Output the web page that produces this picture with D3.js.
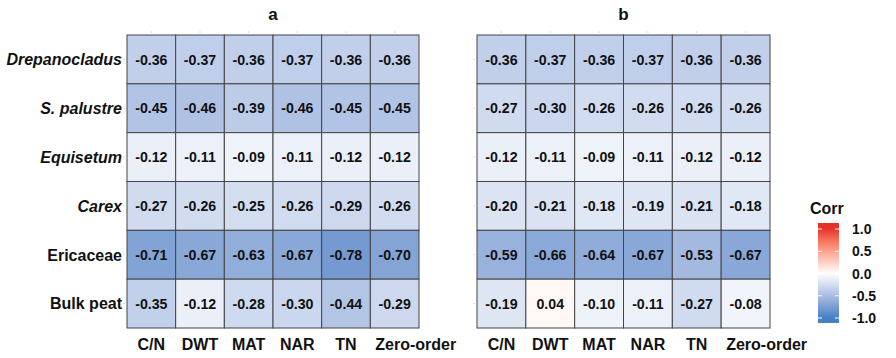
<!DOCTYPE html>
<html><head><meta charset="utf-8">
<script src="https://cdn.jsdelivr.net/npm/d3@7"></script>
<style>body{margin:0;background:#fff;} svg{display:block;font-family:Arial,"Liberation Sans",sans-serif;}</style>
</head><body><svg id="c" width="896" height="358"></svg>
<script>
const columns = ["C/N","DWT","MAT","NAR","TN","Zero-order"];
const rows = ["Drepanocladus","S. palustre","Equisetum","Carex","Ericaceae","Bulk peat"];
const italicRows = ["Drepanocladus","S. palustre","Equisetum","Carex"];
const panelTitles = ["a","b"];
const valuesA = [
  [-0.36,-0.37,-0.36,-0.37,-0.36,-0.36],
  [-0.45,-0.46,-0.39,-0.46,-0.45,-0.45],
  [-0.12,-0.11,-0.09,-0.11,-0.12,-0.12],
  [-0.27,-0.26,-0.25,-0.26,-0.29,-0.26],
  [-0.71,-0.67,-0.63,-0.67,-0.78,-0.70],
  [-0.35,-0.12,-0.28,-0.30,-0.44,-0.29]
];
const valuesB = [
  [-0.36,-0.37,-0.36,-0.37,-0.36,-0.36],
  [-0.27,-0.30,-0.26,-0.26,-0.26,-0.26],
  [-0.12,-0.11,-0.09,-0.11,-0.12,-0.12],
  [-0.20,-0.21,-0.18,-0.19,-0.21,-0.18],
  [-0.59,-0.66,-0.64,-0.67,-0.53,-0.67],
  [-0.19,0.04,-0.10,-0.11,-0.27,-0.08]
];
const legendTicks = [1.0,0.5,0.0,-0.5,-1.0];

const loc = d3.formatLocale({decimal:".",thousands:",",grouping:[3],currency:["",""],minus:"-"});
const f2 = loc.format(".2f"), f1 = loc.format(".1f");

const svg = d3.select("#c");
const color = d3.scaleLinear().domain([-1,0,1]).range(["#4680c4","#ffffff","#e6302a"]).interpolate(d3.interpolateLab);

const panels = [
  {x0:127, x1:419, data:valuesA, title:panelTitles[0], ylab:true},
  {x0:477, x1:770, data:valuesB, title:panelTitles[1], ylab:false}
];
const y = d3.scaleBand().domain(rows).range([35,328]);

panels.forEach(p=>{
  const x = d3.scaleBand().domain(columns).range([p.x0,p.x1]);
  const g = svg.append("g");
  const cells = [];
  p.data.forEach((r,i)=>r.forEach((v,j)=>cells.push({row:rows[i],col:columns[j],v})));
  g.selectAll("rect.cell").data(cells).join("rect")
    .attr("x",d=>x(d.col)).attr("y",d=>y(d.row))
    .attr("width",x.bandwidth()).attr("height",y.bandwidth())
    .attr("fill",d=>color(d.v)).attr("stroke","#444").attr("stroke-width",1);
  g.selectAll("text.val").data(cells).join("text")
    .attr("x",d=>x(d.col)+x.bandwidth()/2).attr("y",d=>y(d.row)+y.bandwidth()/2)
    .attr("dy","0.36em").attr("text-anchor","middle")
    .attr("font-size","14.2px").attr("font-weight","bold").attr("fill","#111")
    .text(d=>f2(d.v));
  const last = columns[columns.length-1];
  g.selectAll("text.xl").data(columns).join("text")
    .attr("x",d=>d===last ? x(d)+5 : x(d)+x.bandwidth()/2).attr("y",350)
    .attr("text-anchor",d=>d===last?"start":"middle").attr("font-size","16px").attr("font-weight","bold").attr("fill","#111")
    .text(d=>d);
  g.selectAll("line.tx").data(columns).join("line")
    .attr("x1",d=>x(d)+x.bandwidth()/2).attr("x2",d=>x(d)+x.bandwidth()/2)
    .attr("y1",31).attr("y2",33).attr("stroke","#ddd");
  g.selectAll("line.ty").data(rows).join("line")
    .attr("x1",p.x0-4).attr("x2",p.x0-2)
    .attr("y1",d=>y(d)+y.bandwidth()/2).attr("y2",d=>y(d)+y.bandwidth()/2).attr("stroke","#ddd");
  g.append("text").attr("x",(p.x0+p.x1)/2).attr("y",20).attr("text-anchor","middle")
    .attr("font-size","17px").attr("font-weight","bold").attr("fill","#111").text(p.title);
  if(p.ylab){
    g.selectAll("text.yl").data(rows).join("text")
      .attr("x",p.x0-5).attr("y",d=>y(d)+y.bandwidth()/2).attr("dy","0.36em")
      .attr("text-anchor","end").attr("font-size","16px").attr("font-weight","bold")
      .attr("font-style",d=>italicRows.includes(d)?"italic":"normal").attr("fill","#111")
      .text(d=>d);
  }
});

const ly = d3.scaleLinear().domain([1,-1]).range([229,318]);
const defs = svg.append("defs");
const grad = defs.append("linearGradient").attr("id","lg").attr("x1",0).attr("x2",0).attr("y1",0).attr("y2",1);
const gTop = ly.invert(223), gBot = ly.invert(323);
d3.range(0,21).forEach(i=>{
  const t=i/20; const v=gTop+(gBot-gTop)*t;
  grad.append("stop").attr("offset",t).attr("stop-color",color(Math.max(-1,Math.min(1,v))));
});
svg.append("rect").attr("x",818).attr("y",223).attr("width",21).attr("height",100).attr("fill","url(#lg)");
svg.selectAll("line.lt").data(legendTicks).join("line")
  .attr("x1",818).attr("x2",822).attr("y1",d=>ly(d)).attr("y2",d=>ly(d)).attr("stroke","#fff").attr("stroke-width",1);
svg.selectAll("line.lt2").data(legendTicks).join("line")
  .attr("x1",835).attr("x2",839).attr("y1",d=>ly(d)).attr("y2",d=>ly(d)).attr("stroke","#fff").attr("stroke-width",1);
svg.selectAll("text.lt").data(legendTicks).join("text")
  .attr("x",852).attr("y",d=>ly(d)).attr("dy","0.36em")
  .attr("font-size","14px").attr("font-weight","bold").attr("fill","#111")
  .text(d=>f1(d));
svg.append("text").attr("x",810).attr("y",214).attr("font-size","16px").attr("font-weight","bold").attr("fill","#111").text("Corr");
</script></body></html>
